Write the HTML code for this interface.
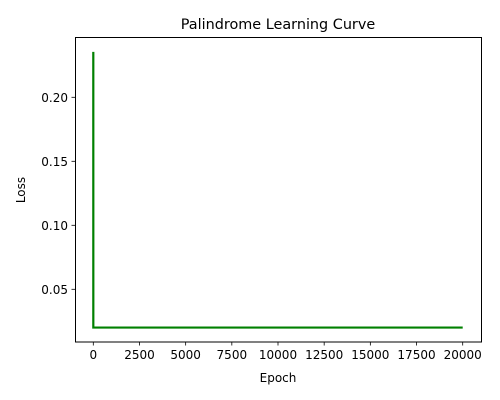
<!DOCTYPE html>
<html><head><meta charset="utf-8"><style>
body{margin:0;background:#fff;}
svg{display:block;font-family:"DejaVu Sans","Liberation Sans",sans-serif;}
</style></head><body>
<svg id="chart" width="500" height="400">
<rect width="500" height="400" fill="#fff"/>
<text x="278" y="29" font-size="14.4" text-anchor="middle">Palindrome Learning Curve</text>
<rect x="75.5" y="37.5" width="406" height="304.5" fill="none" stroke="#000" stroke-width="1"/>
<text x="278" y="382" font-size="12" text-anchor="middle">Epoch</text>
<text x="25" y="190" font-size="12" text-anchor="middle" transform="rotate(-90 25 190)">Loss</text>
</svg>
<script>
const epochs = [0, 1, 2500, 5000, 7500, 10000, 12500, 15000, 17500, 20000];
const losses = [0.2355, 0.0201, 0.0201, 0.0201, 0.0201, 0.0201, 0.0201, 0.0201, 0.0201, 0.0201];
const xTicks = [0, 2500, 5000, 7500, 10000, 12500, 15000, 17500, 20000];
const yTicks = [0.05, 0.10, 0.15, 0.20];
const yTickLabels = ["0.05", "0.10", "0.15", "0.20"];

const NS = "http://www.w3.org/2000/svg";
const svg = document.getElementById("chart");
const x = v => 93.3 + v * (369.4 / 20000);
const y = v => 97.3 + (0.20 - v) * 1280;
function mk(tag, attrs){const e=document.createElementNS(NS,tag);for(const k in attrs)e.setAttribute(k,attrs[k]);svg.appendChild(e);return e;}

xTicks.forEach(t=>{
  const l=mk("line",{x1:x(t),x2:x(t),y1:342,y2:345.5,stroke:"#000","stroke-width":0.8});
  
  
  const tx=mk("text",{x:x(t),y:359,"font-size":12,"text-anchor":"middle"});
  tx.textContent=String(t);
  
  
});
yTicks.forEach((t,i)=>{
  const l=mk("line",{x1:71.5,x2:75.5,y1:y(t),y2:y(t),stroke:"#000","stroke-width":0.8});
  
  
  const tx=mk("text",{x:68,y:y(t)+4.5,"font-size":12,"text-anchor":"end"});
  tx.textContent=yTickLabels[i];
  
  
});
const pts=epochs.map((e,i)=>x(e).toFixed(2)+","+y(losses[i]).toFixed(2)).join(" ");
const line=mk("polyline",{points:pts,fill:"none",stroke:"#008000","stroke-width":2.2,"stroke-linejoin":"miter"});


</script>
</body></html>
